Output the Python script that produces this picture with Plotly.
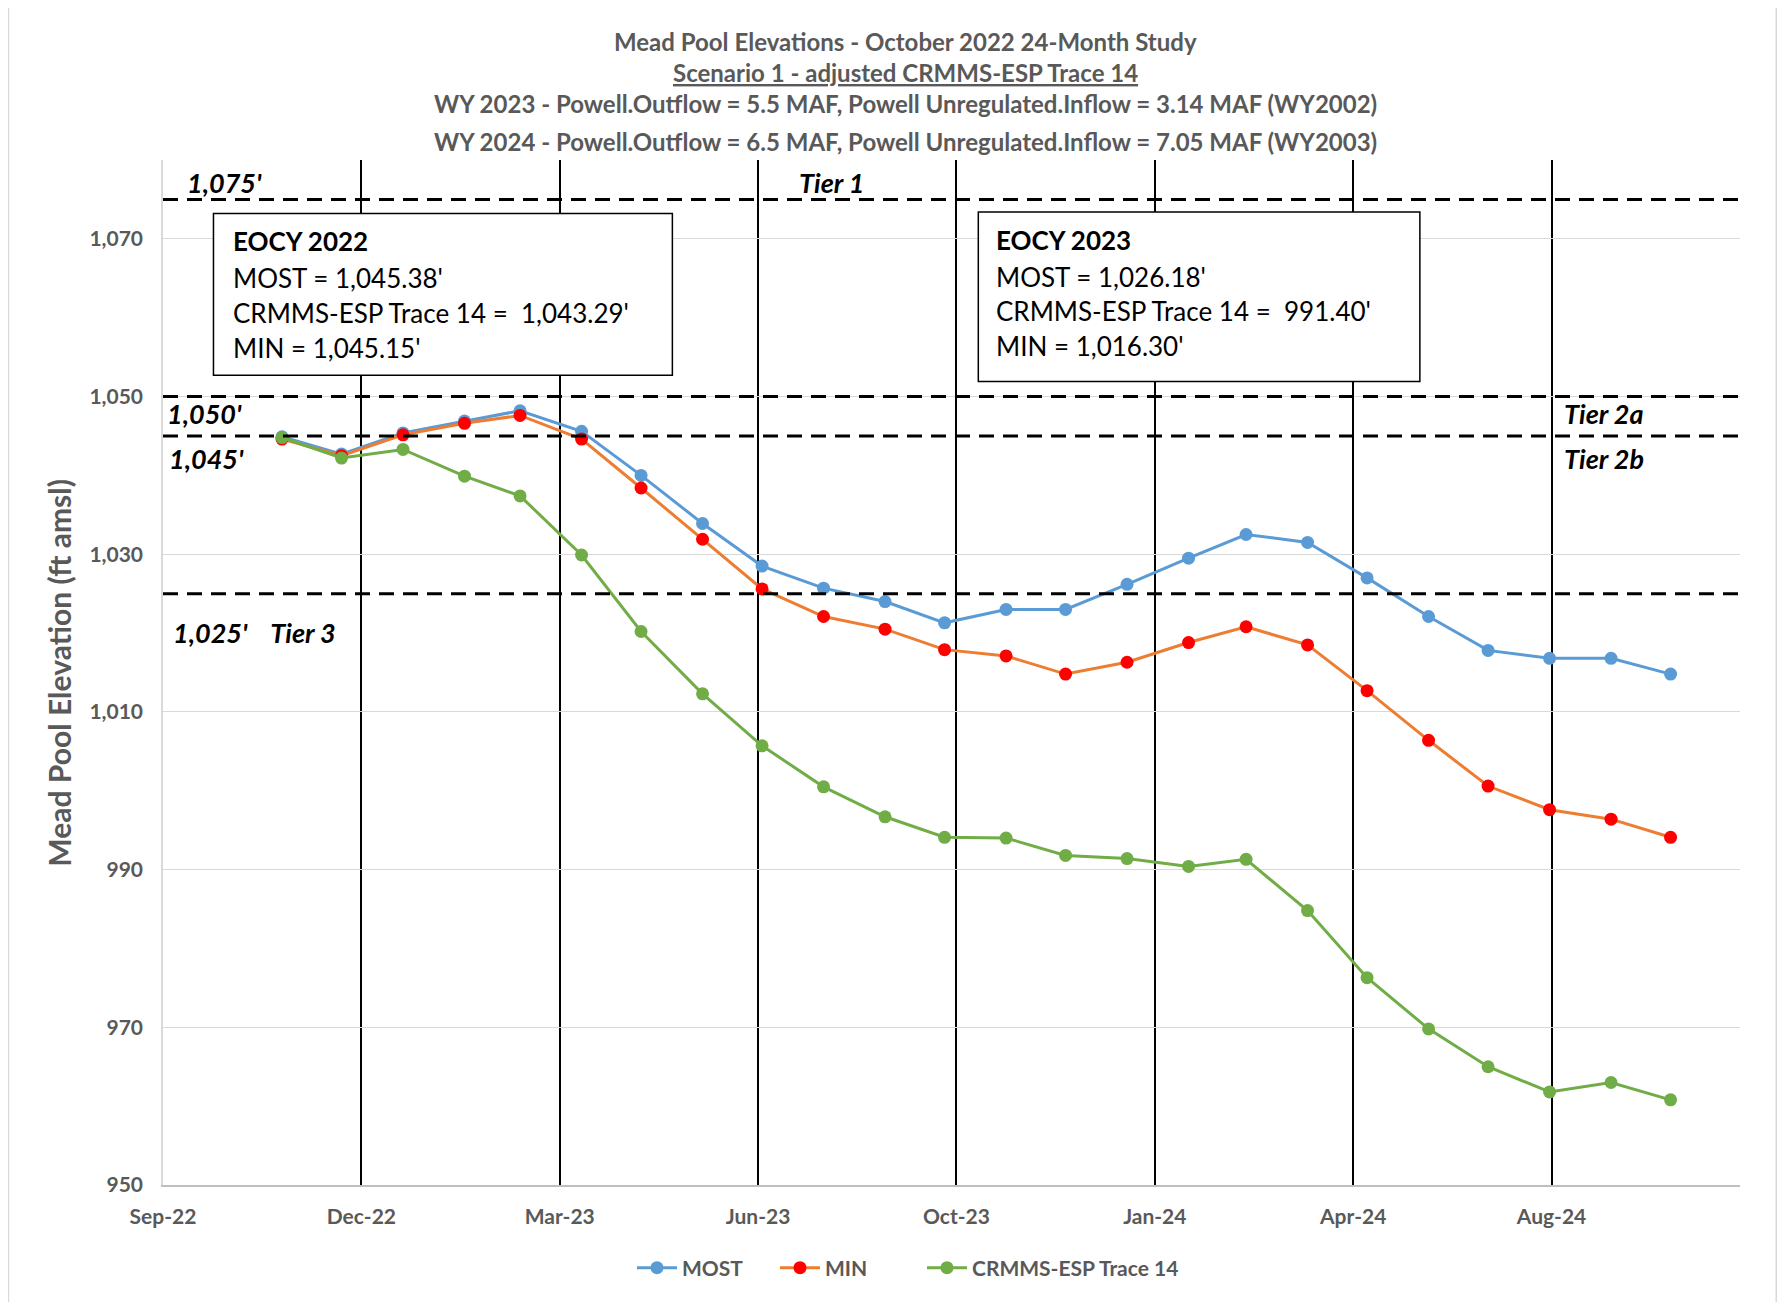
import pandas as pd
import plotly.graph_objects as go

# ---------------- data ----------------
months = pd.date_range("2022-10-31", periods=24, freq="ME")

most = [1044.9, 1042.7, 1045.38, 1046.9, 1048.2, 1045.6, 1040.0, 1033.9, 1028.5, 1025.7,
        1024.0, 1021.3, 1023.0, 1023.0, 1026.18, 1029.5, 1032.5, 1031.5, 1027.0, 1022.1,
        1017.8, 1016.8, 1016.8, 1014.8]
mins = [1044.6, 1042.5, 1045.15, 1046.6, 1047.6, 1044.6, 1038.4, 1031.9, 1025.6, 1022.1,
        1020.5, 1017.9, 1017.1, 1014.8, 1016.30, 1018.8, 1020.8, 1018.5, 1012.7, 1006.4,
        1000.6, 997.6, 996.4, 994.1]
trace14 = [1044.8, 1042.2, 1043.29, 1039.9, 1037.4, 1029.9, 1020.2, 1012.3, 1005.7, 1000.5,
           996.7, 994.1, 994.0, 991.8, 991.40, 990.4, 991.3, 984.8, 976.3, 969.8,
           965.0, 961.8, 963.0, 960.8]

tick_dates = ["2022-09-01", "2022-12-10", "2023-03-20", "2023-06-28",
              "2023-10-06", "2024-01-14", "2024-04-23", "2024-08-01"]
tick_labels = ["Sep-22", "Dec-22", "Mar-23", "Jun-23", "Oct-23", "Jan-24", "Apr-24", "Aug-24"]
x_range = ["2022-09-01", "2024-11-04"]
y_range = [950, 1080]
y_ticks = [950, 970, 990, 1010, 1030, 1050, 1070]

tier_levels = [1075, 1050, 1045, 1025]

title_lines = [
    "Mead Pool Elevations - October 2022 24-Month Study",
    "<u>Scenario 1 - adjusted CRMMS-ESP Trace 14</u>",
    "WY 2023 - Powell.Outflow = 5.5 MAF, Powell Unregulated.Inflow = 3.14 MAF (WY2002)",
    "WY 2024 - Powell.Outflow = 6.5 MAF, Powell Unregulated.Inflow = 7.05 MAF (WY2003)",
]
box1_lines = ["<b>EOCY 2022</b>", "MOST = 1,045.38'", "CRMMS-ESP Trace 14 =  1,043.29'", "MIN = 1,045.15'"]
box2_lines = ["<b>EOCY 2023</b>", "MOST = 1,026.18'", "CRMMS-ESP Trace 14 =  991.40'", "MIN = 1,016.30'"]

# ---------------- figure ----------------
FONT = "Lato"
GRAY = "#595959"

fig = go.Figure()
series = [
    ("MOST", most, "#5B9BD5", "#5B9BD5", 88),
    ("MIN", mins, "#ED7D31", "#FF0000", 92),
    ("CRMMS-ESP Trace 14", trace14, "#70AD47", "#70AD47", 212),
]
for name, vals, lc, mc, lw in series:
    fig.add_trace(go.Scatter(
        x=months, y=vals, name=name, mode="lines+markers",
        line=dict(color=lc, width=3),
        marker=dict(color=mc, size=13),
        legendwidth=lw,
    ))

# tier dashed lines
for lv in tier_levels:
    fig.add_shape(type="line", xref="paper", x0=0, x1=1, yref="y", y0=lv, y1=lv,
                  line=dict(color="black", width=3, dash="15px,9px"), layer="above")

# text boxes
fig.add_shape(type="rect", xref="paper", yref="y", x0=0.032, x1=0.323, y0=1052.7, y1=1073.2,
              line=dict(color="black", width=1.5), fillcolor="white", layer="above")
fig.add_shape(type="rect", xref="paper", yref="y", x0=0.517, x1=0.797, y0=1051.9, y1=1073.4,
              line=dict(color="black", width=1.5), fillcolor="white", layer="above")

box_y1 = [1069.7, 1065.0, 1060.6, 1056.2]
box_y2 = [1069.9, 1065.2, 1060.9, 1056.4]
for txt, yy in zip(box1_lines, box_y1):
    fig.add_annotation(text=txt, xref="paper", yref="y", x=0.043, y=yy, xanchor="left",
                       yanchor="middle", showarrow=False, font=dict(family=FONT, size=26, color="black"))
for txt, yy in zip(box2_lines, box_y2):
    fig.add_annotation(text=txt, xref="paper", yref="y", x=0.527, y=yy, xanchor="left",
                       yanchor="middle", showarrow=False, font=dict(family=FONT, size=26, color="black"))

# tier labels
lab_font = dict(family=FONT, size=27, color="black")
tier_labels = [
    ("<b><i>1,075'</i></b>", 0.014, 1077.2),
    ("<b><i>Tier 1</i></b>", 0.402, 1077.2),
    ("<b><i>1,050'</i></b>", 0.001, 1047.9),
    ("<b><i>1,045'</i></b>", 0.0025, 1042.1),
    ("<b><i>1,025'&nbsp;&nbsp;&nbsp;&nbsp;Tier 3</i></b>", 0.005, 1020.05),
    ("<b><i>Tier 2a</i></b>", 0.887, 1047.8),
    ("<b><i>Tier 2b</i></b>", 0.887, 1042.1),
]
for txt, xx, yy in tier_labels:
    fig.add_annotation(text=txt, xref="paper", yref="y", x=xx, y=yy, xanchor="left",
                       yanchor="middle", showarrow=False, font=lab_font)

# title lines
title_y = [1.116, 1.085, 1.055, 1.0185]
for txt, yy in zip(title_lines, title_y):
    fig.add_annotation(text="<b>" + txt + "</b>", xref="paper", yref="paper", x=0.471, y=yy,
                       xanchor="center", yanchor="middle", showarrow=False,
                       font=dict(family=FONT, size=24, color=GRAY))

# y-axis title
fig.add_annotation(text="<b>Mead Pool Elevation (ft amsl)</b>", xref="paper", yref="paper",
                   x=-0.0665, y=0.5, textangle=-90, xanchor="center", yanchor="middle",
                   showarrow=False, font=dict(family=FONT, size=30, color=GRAY))

# page border
fig.add_shape(type="rect", xref="paper", yref="paper", x0=-0.098, x1=1.023, y0=-0.2, y1=1.151,
              line=dict(color="#d9d9d9", width=1.5), fillcolor="rgba(0,0,0,0)", layer="below")

fig.update_layout(
    width=1777, height=1294,
    margin=dict(l=155, r=45, t=152, b=117),
    paper_bgcolor="white", plot_bgcolor="white",
    font=dict(family=FONT, color=GRAY),
    showlegend=True,
    legend=dict(orientation="h", x=0.474, y=-0.081, xanchor="center", yanchor="middle",
                font=dict(family=FONT, size=21, color=GRAY, weight="bold"), itemwidth=40),
)
fig.update_xaxes(
    type="date", range=x_range, tickvals=tick_dates, ticktext=tick_labels,
    showgrid=True, gridcolor="black", gridwidth=1.5,
    showline=True, linecolor="#bfbfbf", linewidth=1.5,
    ticks="", ticklabelstandoff=12,
    tickfont=dict(family=FONT, size=21, color=GRAY, weight="bold"),
    zeroline=False,
)
fig.update_yaxes(
    range=y_range, tickvals=y_ticks, tickformat=",d",
    showgrid=True, gridcolor="#d9d9d9", gridwidth=1,
    showline=True, linecolor="#d9d9d9", linewidth=1.5,
    ticks="", ticklabelstandoff=14,
    tickfont=dict(family=FONT, size=21, color=GRAY, weight="bold"),
    zeroline=False,
)

fig.write_html("out.html")
